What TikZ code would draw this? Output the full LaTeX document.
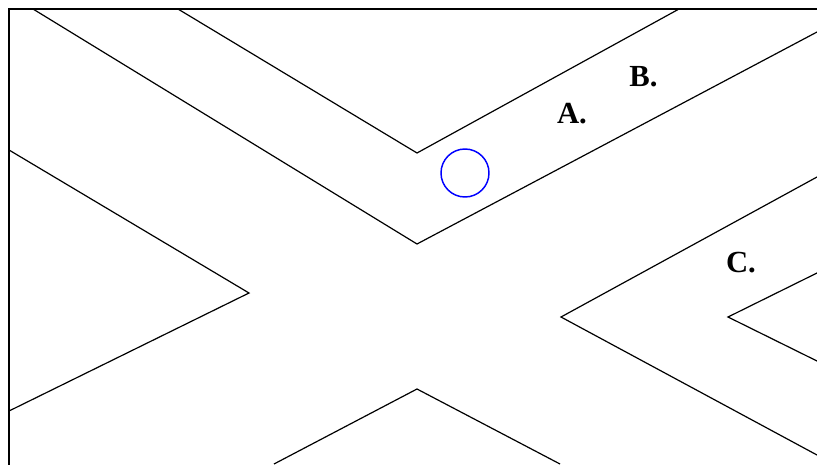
\documentclass[tikz,border=0pt]{standalone}
\usepackage{fontspec}
\setmainfont{Liberation Serif}
\usepackage{tikz}
\usepackage{xcolor}

\begin{document}
\begin{tikzpicture}[x=0.75pt,y=-0.75pt,
  lbl/.style={anchor=base,font=\fontsize{23}{27}\selectfont\bfseries}]
\useasboundingbox (0,0) rectangle (817,464);
\clip (0,0) rectangle (817,464);

% frame
\draw [line width=1.5pt] (9,480) -- (9,9) -- (830,9);

% bands of the cross
\draw [line width=0.9pt] (33,9) -- (417,244) -- (817,32);
\draw [line width=0.9pt] (178,9) -- (417,153) -- (679,9);
\draw [line width=0.9pt] (9,150) -- (249,293) -- (9,411);
\draw [line width=0.9pt] (274,464) -- (417,389) -- (560,464);
\draw [line width=0.9pt] (817,177) -- (561,317) -- (817,455);
\draw [line width=0.9pt] (817,273) -- (728,317) -- (817,361);

% marker
\draw [blue, line width=1.1pt] (465,173) circle (24);

\node [lbl] (b) at (643.5,86) {B.};
\node [lbl] (a) at (572,123) {A.};
\node [lbl] (c) at (741,272) {C.};
\end{tikzpicture}
\end{document}
